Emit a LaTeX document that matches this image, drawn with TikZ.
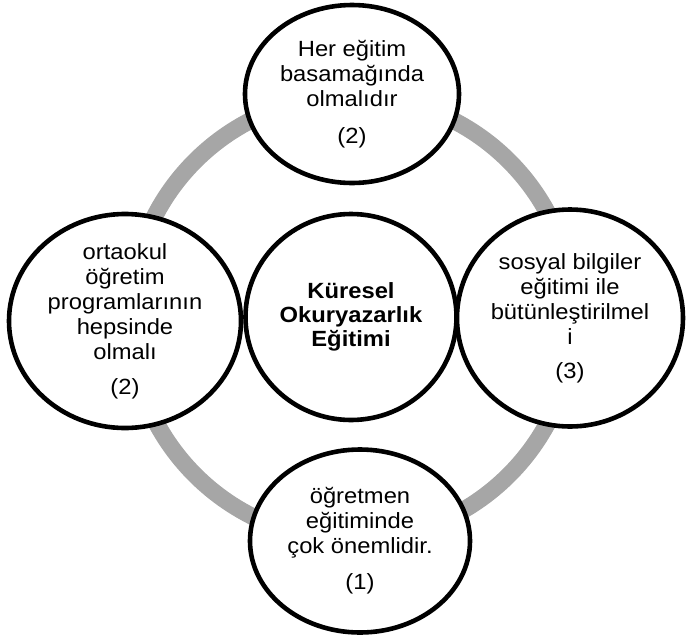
\documentclass[tikz,border=0pt]{standalone}
\usepackage{fontspec}
\setmainfont[FakeStretch=1.08]{Liberation Sans}
\usepackage{tikz}
\usetikzlibrary{shapes}
\definecolor{ringgray}{HTML}{A6A6A6}
\tikzstyle{bubble}=[ellipse,draw=black,line width=4.6pt,fill=white,inner sep=-20pt,align=center,font=\fontsize{22}{25}\selectfont]
\tikzstyle{ring}=[draw=ringgray,line width=17pt]

\begin{document}
\begin{tikzpicture}[x=1pt,y=-1pt]
      \useasboundingbox (0,0) rectangle (686,638);
      \coordinate (hub) at (352,318);
      \draw[ring] (hub) circle (222pt);

      \node[bubble,minimum width=211pt,minimum height=206pt,font=\bfseries\fontsize{22}{24}\selectfont] at (351,317) (core) {Küresel\\Okuryazarlık\\Eğitimi};
			\node[bubble,minimum width=214pt,minimum height=178pt] at (352,94) (upper) {Her eğitim\\basamağında\\olmalıdır\\[12pt](2)};
			\node[bubble,minimum width=232pt,minimum height=214pt] at (125,321) (lhs) {ortaokul\\öğretim\\programlarının\\hepsinde\\olmalı\\[10pt](2)};
			\node[bubble,minimum width=226pt,minimum height=217pt] at (570,318) (rhs) {sosyal bilgiler\\eğitimi ile\\bütünleştirilmel\\i\\[9pt](3)};
			\node[bubble,minimum width=220pt,minimum height=183pt] at (360,541) (lower) {öğretmen\\eğitiminde\\çok önemlidir.\\[11pt](1)};
  	\end{tikzpicture}
\end{document}
